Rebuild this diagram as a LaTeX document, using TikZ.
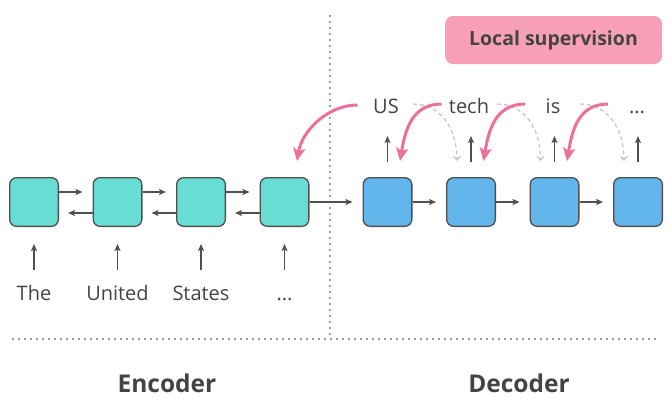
\documentclass[tikz,border=0pt]{standalone}
\usepackage{fontspec}
\setmainfont{Open Sans}
\usetikzlibrary{arrows.meta}
\definecolor{enc}{HTML}{68DDD3}
\definecolor{dec}{HTML}{62B6EB}
\definecolor{edge}{HTML}{505050}
\definecolor{txt}{HTML}{444444}
\definecolor{pinkarr}{HTML}{EE7098}
\definecolor{pinkbox}{HTML}{F9A0B9}
\definecolor{dashgray}{HTML}{C4C4C4}
\definecolor{dotgray}{HTML}{A0A0A0}
\begin{document}
\begin{tikzpicture}[x=1pt,y=-1pt,
 cell/.style={draw=edge, line width=1.3pt, rounded corners=7pt, minimum size=48.7pt, inner sep=0pt},
 enccell/.style={cell, fill=enc},
 deccell/.style={cell, fill=dec},
 word/.style={font=\fontsize{20}{24}\selectfont, text=txt, inner sep=0pt, text height=14pt, text depth=4pt, anchor=base},
 arr/.style={draw=edge, line width=1.2pt, -{Stealth[length=7pt,width=6pt,inset=1.5pt]}},
 sup/.style={draw=pinkarr, line width=3pt, -{Stealth[length=13pt,width=12pt,inset=3pt]}},
 ghost/.style={draw=dashgray, line width=1.2pt, dash pattern=on 4pt off 3pt, -{Straight Barb[length=4pt,width=7pt]}},
 dots/.style={draw=dotgray, line width=1.5pt, dash pattern=on 1.5pt off 4.5pt},
 title/.style={font=\bfseries\fontsize{24.5}{28}\selectfont, text=txt, anchor=base, inner sep=0pt},
]
\fill[white] (0,0) rectangle (669,402);
\useasboundingbox (0,0) rectangle (669,402);

% dotted separators
\draw[dots] (330,15) -- (330,336);
\draw[dots] (12,339) -- (660,339);

% local supervision label
\node[fill=pinkbox, rounded corners=8pt, minimum width=217pt, minimum height=48pt, inner sep=0pt,
      font=\bfseries\fontsize{19.5}{22}\selectfont, text=txt] (ls) at (553.5,40) {Local supervision};

% encoder cells
\node[enccell] (e1) at (34,202) {};
\node[enccell] (e2) at (117.5,202) {};
\node[enccell] (e3) at (201,202) {};
\node[enccell] (e4) at (284.5,202) {};
% decoder cells
\node[deccell] (d1) at (387.5,202) {};
\node[deccell] (d2) at (471,202) {};
\node[deccell] (d3) at (554.5,202) {};
\node[deccell] (d4) at (638,202) {};

% input words
\node[word] (w1) at (34,300) {The};
\node[word] (w2) at (117.5,300) {United};
\node[word] (w3) at (201,300) {States};
\node[word] (w4) at (284.5,300) {...};
% output words
\node[word] (o1) at (386,113) {US};
\node[word] (o2) at (469,113) {tech};
\node[word] (o3) at (553,113) {is};
\node[word] (o4) at (637,113) {...};

% input arrows
\foreach \i in {1,2,3,4}{
  \draw[arr] ([yshift=16pt]w\i.north) -- ([yshift=-17pt]e\i.south);
  \draw[arr] ([yshift=15pt]d\i.north) -- ([yshift=41pt]d\i.north);
}

% encoder forward/backward
\foreach \a/\b in {1/2,2/3,3/4}{
  \draw[arr] ([yshift=10pt]e\a.east) -- ([xshift=-10pt,yshift=10pt]e\b.west);
  \draw[arr] ([yshift=-11pt]e\b.west) -- ([xshift=9pt,yshift=-11pt]e\a.east);
}
\draw[arr] (e4.east) -- ([xshift=-10pt]d1.west);
\foreach \a/\b in {1/2,2/3,3/4}{
  \draw[arr] (d\a.east) -- ([xshift=-10pt]d\b.west);
}

% start points of supervision arrows
\coordinate (p1) at (357.5,105);
\coordinate (p2) at (441.5,104);
\coordinate (p3) at (525,104);
\coordinate (p4) at (608,104);
% start points of ghost arrows
\coordinate (g1) at (413,104);
\coordinate (g2) at (497,104);
\coordinate (g3) at (580,104);

% dashed feedback arrows
\draw[ghost] (g1) .. controls +(28,0) and +(0,-32) .. ([xshift=-14pt,yshift=16pt]d2.north);
\draw[ghost] (g2) .. controls +(28,0) and +(0,-32) .. ([xshift=-14pt,yshift=16pt]d3.north);
\draw[ghost] (g3) .. controls +(28,0) and +(0,-32) .. ([xshift=-14pt,yshift=16pt]d4.north);

% local supervision arrows
\draw[sup] (p1) .. controls +(-30,0) and +(5,-30) .. ([xshift=12.5pt,yshift=16pt]e4.north);
\draw[sup] (p2) .. controls +(-30,0) and +(5,-30) .. ([xshift=12.5pt,yshift=16pt]d1.north);
\draw[sup] (p3) .. controls +(-30,0) and +(5,-30) .. ([xshift=12.5pt,yshift=16pt]d2.north);
\draw[sup] (p4) .. controls +(-30,0) and +(5,-30) .. ([xshift=12.5pt,yshift=16pt]d3.north);

% titles
\node[title] (enc) at (167,392) {Encoder};
\node[title] (dec) at (519,392) {Decoder};
\end{tikzpicture}
\end{document}
